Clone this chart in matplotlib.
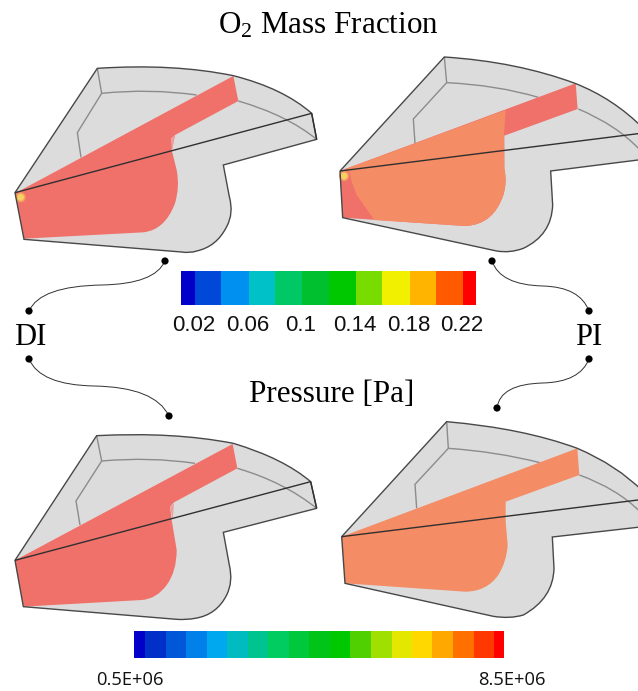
import matplotlib
matplotlib.use("Agg")
import matplotlib.pyplot as plt
from matplotlib.path import Path
from matplotlib.patches import PathPatch, Rectangle, Circle

W, H = 638, 691
GREY = "#dcdcdc"
EDGE = "#484848"
INNER = "#8c8c8c"
RED = "#f0706a"
ORANGE = "#f48c66"

# top left, DI O2
A_OFF = (0, 50)
A_OUT = [(45, 428), (292, 55), ((520, 40), (700, 77)), ((850, 115), (935, 190)), (950, 268), (670, 345),
         (688, 440), ((702, 490), (680, 530)), ((650, 590), (590, 603)), ((570, 610), (545, 606)), (72, 568)]
A_FRONT = [(45, 428), (935, 190), (950, 268)]
A_INNER = [[(292, 55), (305, 130), (232, 248), (243, 322)],
           [(305, 130), ((450, 115), (590, 135))],
           [(715, 153), ((860, 195), (950, 268))]]
A_FILL = [(45, 430), (700, 78), (715, 153), (525, 255), (515, 300), (530, 360), ((540, 410), (525, 460)),
          ((495, 540), (430, 547)), (72, 566)]
A_PALE = [(512, 265), (525, 255), (516, 305)]
A_DOT = (62, 442)

# top right, PI O2
B_OFF = (330, 45)
B_OUT = [(30, 378), (343, 36), ((560, 50), (735, 115)), ((850, 160), (940, 250)), (940, 343), (662, 378),
         (668, 480), ((665, 570), (580, 610)), ((540, 625), (500, 618)), (38, 518)]
B_FRONT = [(30, 378), (940, 264)]
B_INNER = [[(343, 36), (350, 113), (250, 222), (255, 295)],
           [(350, 113), ((500, 120), (625, 157))],
           [(745, 192), ((860, 240), (930, 315))]]
B_FILL = [(30, 378), (737, 115), (743, 192), (523, 272), (523, 370), ((532, 410), (520, 450)),
          ((490, 540), (405, 543)), (38, 518)]
B_MID = [(45, 372), (527, 195), (522, 272), (523, 370), ((532, 410), (520, 450)), ((490, 540), (405, 543)),
         (133, 525), (80, 450), (65, 410), (60, 385)]
B_DOT = (42, 393)

# bottom left, DI pressure
C_OFF = (0, 425)
C_OUT = [(45, 406), (290, 32), ((520, 20), (700, 55)), ((850, 100), (932, 170)), (950, 250), (670, 322),
         (688, 420), ((700, 470), (680, 510)), ((650, 570), (585, 580)), ((560, 585), (530, 583)), (70, 545)]
C_FRONT = [(45, 406), (932, 170), (950, 250)]
C_INNER = [[(290, 32), (305, 108), (228, 228), (240, 300)],
           [(305, 108), ((450, 95), (585, 115))],
           [(712, 130), ((850, 170), (950, 250))]]
C_FILL = [(45, 406), (698, 57), (712, 130), (522, 232), (510, 245), (515, 285), (530, 375),
          ((530, 440), (500, 480)), ((470, 522), (425, 525)), (70, 545)]
C_PALE = [(510, 245), (522, 235), (518, 285)]

# bottom right, PI pressure
D_OFF = (330, 415)
D_OUT = [(35, 365), (350, 20), ((580, 40), (742, 100)), ((860, 150), (940, 230)), (940, 335), (667, 366),
         (672, 460), ((670, 550), (580, 600)), ((540, 612), (490, 604)), (45, 505)]
D_FRONT = [(35, 365), (940, 253)]
D_INNER = [[(350, 20), (355, 100), (255, 208), (260, 280)],
           [(355, 100), ((500, 110), (630, 143))],
           [(748, 180), ((860, 220), (930, 290))]]
D_FILL = [(35, 365), (742, 100), (748, 180), (527, 260), (527, 320), (533, 390), ((530, 440), (505, 480)),
          ((470, 530), (405, 530)), (45, 505)]

# colour bars
O2_EDGES = [181, 195, 221, 249, 275, 302, 329, 356, 382, 410, 436, 463, 476]
O2_COLORS = ["#0000c8", "#0048d8", "#0090f0", "#00c0c8", "#00c864", "#00c030",
             "#00c800", "#78dc00", "#f0f000", "#ffb400", "#ff5a00", "#ff0000"]
O2_TICKS = ["0.02", "0.06", "0.1", "0.14", "0.18", "0.22"]
O2_TICK_X = [194, 248, 301, 355, 409, 462]

P_EDGES = [134, 145, 166, 186, 207, 227, 248, 268, 289, 309, 330, 350, 371, 392, 412, 432, 453, 474, 494, 504]
P_COLORS = ["#0000c8", "#0030c8", "#0058d8", "#0080e8", "#00a8f0", "#00bcc0", "#00c490", "#00cc60", "#00c83c",
            "#00c418", "#00c800", "#50d000", "#a0e000", "#e4e800", "#ffd800", "#ffa800", "#ff7000", "#ff3800",
            "#ff0000"]
P_TICKS = ["0.5E+06", "8.5E+06"]
P_TICK_X = [130, 512]

# connector curves, start then (control, end) pairs
CONNECTORS = [[(165, 261), ((155, 284), (102, 285)), ((40, 286), (29, 311))],
              [(29, 359), ((40, 385), (94, 386)), ((155, 387), (169, 416))],
              [(492, 261), ((500, 285), (543, 286)), ((580, 287), (589, 311))],
              [(589, 359), ((580, 382), (543, 383)), ((500, 384), (497, 408))]]


def make_path(points, offset=(0, 0), scale=3.0, close=False):
    verts, codes = [], []

    def conv(p):
        return (offset[0] + p[0] / scale, offset[1] + p[1] / scale)

    for i, p in enumerate(points):
        if isinstance(p[0], tuple):
            verts += [conv(p[0]), conv(p[1])]
            codes += [Path.CURVE3, Path.CURVE3]
        else:
            verts.append(conv(p))
            codes.append(Path.MOVETO if i == 0 else Path.LINETO)
    if close:
        verts.append(verts[0])
        codes.append(Path.CLOSEPOLY)
    return Path(verts, codes)


def draw_panel(ax, off, out, front, inner, fill, fill_color):
    ax.add_patch(PathPatch(make_path(out, off, close=True), fc=GREY, ec="none", zorder=1))
    for line in inner:
        ax.add_patch(PathPatch(make_path(line, off), fc="none", ec=INNER, lw=1.0, zorder=2))
    ax.add_patch(PathPatch(make_path(fill, off, close=True), fc=fill_color, ec="none", zorder=3))
    ax.add_patch(PathPatch(make_path(out, off, close=True), fc="none", ec=EDGE, lw=1.0, zorder=5))
    ax.add_patch(PathPatch(make_path(front, off), fc="none", ec="#303030", lw=1.0, zorder=5))


def draw_hot_spot(ax, off, pos):
    x, y = off[0] + pos[0] / 3, off[1] + pos[1] / 3
    ax.add_patch(Circle((x, y), 5.0, fc="#f4a060", ec="none", zorder=4))
    ax.add_patch(Circle((x, y), 3.4, fc="#f6d060", ec="none", zorder=4))


def draw_bar(ax, edges, colors, y0, y1):
    for left, right, c in zip(edges[:-1], edges[1:], colors):
        ax.add_patch(Rectangle((left, y0), right - left, y1 - y0, fc=c, ec="none", zorder=3))


fig = plt.figure(figsize=(W / 100, H / 100), dpi=100)
ax = fig.add_axes([0, 0, 1, 1])
ax.set_xlim(0, W)
ax.set_ylim(H, 0)
ax.axis("off")
plt.rcParams["mathtext.default"] = "regular"

draw_panel(ax, A_OFF, A_OUT, A_FRONT, A_INNER, A_FILL, RED)
ax.add_patch(PathPatch(make_path(A_PALE, A_OFF, close=True), fc="#eda09c", ec="none", zorder=3))
draw_hot_spot(ax, A_OFF, A_DOT)

draw_panel(ax, B_OFF, B_OUT, B_FRONT, B_INNER, B_FILL, RED)
ax.add_patch(PathPatch(make_path(B_MID, B_OFF, close=True), fc=ORANGE, ec="none", zorder=3))
draw_hot_spot(ax, B_OFF, B_DOT)

draw_panel(ax, C_OFF, C_OUT, C_FRONT, C_INNER, C_FILL, RED)
ax.add_patch(PathPatch(make_path(C_PALE, C_OFF, close=True), fc="#eda09c", ec="none", zorder=3))

draw_panel(ax, D_OFF, D_OUT, D_FRONT, D_INNER, D_FILL, ORANGE)

draw_bar(ax, O2_EDGES, O2_COLORS, 271, 305)
draw_bar(ax, P_EDGES, P_COLORS, 631, 658)

for curve in CONNECTORS:
    ax.add_patch(PathPatch(make_path(curve, scale=1.0), fc="none", ec="#303030", lw=0.7, zorder=2))
    for end in (curve[0], curve[-1][1]):
        ax.add_patch(Circle(end, 3.6, fc="black", ec="none", zorder=6))

serif = ["Liberation Serif", "DejaVu Serif"]
ax.text(328, 26, "O$_2$ Mass Fraction", family=serif, fontsize=22.4, ha="center", va="center")
ax.text(332, 394, "Pressure [Pa]", family=serif, fontsize=22.4, ha="center", va="center")
ax.text(30, 337, "DI", family=serif, fontsize=22, ha="center", va="center")
ax.text(589, 337, "PI", family=serif, fontsize=22, ha="center", va="center")

for label, x in zip(O2_TICKS, O2_TICK_X):
    ax.text(x, 325.5, label, family="Liberation Sans", fontsize=16, ha="center", va="center", color="#111111")
for label, x in zip(P_TICKS, P_TICK_X):
    ax.text(x, 680, label, family="Open Sans", fontsize=13.2, ha="center", va="center", color="#111111")

fig.savefig("out.png", dpi=100)
plt.close()
